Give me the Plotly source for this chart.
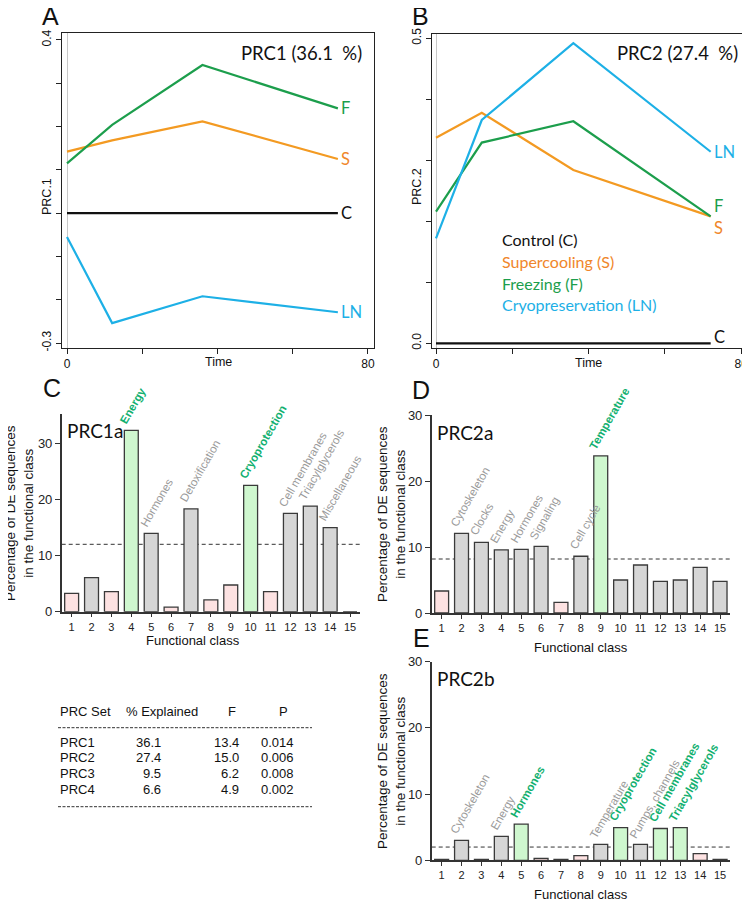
import plotly.graph_objects as go

# the page body keeps an 8px margin; the figure fills the rest of the 750x902 window
OFF = 8
W, H = 750 - OFF, 902 - OFF

# ---------------- Data ----------------
time_pts = [0, 12, 36, 72]
prc1_C = [0.0, 0.0, 0.0, 0.0]
prc1_S = [0.142, 0.168, 0.212, 0.125]
prc1_F = [0.115, 0.204, 0.342, 0.242]
prc1_LN = [-0.055, -0.254, -0.192, -0.229]

prc2_C = [0.0, 0.0, 0.0, 0.0]
prc2_S = [0.337, 0.378, 0.284, 0.208]
prc2_F = [0.216, 0.329, 0.364, 0.208]
prc2_LN = [0.172, 0.366, 0.492, 0.314]

prc1_pct = "PRC1 (36.1  %)"
prc2_pct = "PRC2 (27.4  %)"

classes = list(range(1, 16))

prc1a_vals = [3.26, 6.05, 3.56, 32.3, 13.95, 0.8, 18.3, 2.1, 4.75, 22.5, 3.56, 17.5, 18.8, 14.96, 0]
prc1a_kind = ['p', 'g', 'p', 's', 'g', 'p', 'g', 'p', 'p', 's', 'p', 'g', 'g', 'g', 'g']
prc1a_lab = ['', '', '', 'Energy', 'Hormones', '', 'Detoxification', '', '', 'Cryoprotection', '',
             'Cell membranes', 'Triacylglycerols', 'Miscellaneous', '']
prc1a_mean = 12.0

prc2a_vals = [3.33, 12.07, 10.7, 9.55, 9.65, 10.1, 1.6, 8.6, 23.8, 5.0, 7.27, 4.8, 5.0, 6.9, 4.8]
prc2a_kind = ['p', 'g', 'g', 'g', 'g', 'g', 'p', 'g', 's', 'g', 'g', 'g', 'g', 'g', 'g']
prc2a_lab = ['', 'Cytoskeleton', 'Clocks', 'Energy', 'Hormones', 'Signaling', '', 'Cell cycle', 'Temperature',
             '', '', '', '', '', '']
prc2a_mean = 8.18

prc2b_vals = [0.15, 3.0, 0.15, 3.6, 5.45, 0.3, 0.15, 0.7, 2.4, 4.95, 2.4, 4.8, 4.95, 1.0, 0.15]
prc2b_kind = ['g', 'g', 'g', 'g', 's', 'p', 'g', 'p', 'g', 's', 'g', 's', 's', 'p', 'g']
prc2b_lab = ['', 'Cytoskeleton', '', 'Energy', 'Hormones', '', '', '', 'Temperature', 'Cryoprotection',
             'Pumps, channels', 'Cell membranes', 'Triacylglycerols', '', '']
prc2b_mean = 2.0

table_head = ['PRC Set', '% Explained', 'F', 'P']
table_set = ['PRC1', 'PRC2', 'PRC3', 'PRC4']
table_expl = ['36.1', '27.4', '9.5', '6.6']
table_F = ['13.4', '15.0', '6.2', '4.9']
table_P = ['0.014', '0.006', '0.008', '0.002']

legend_names = ['Control (C)', 'Supercooling (S)', 'Freezing (F)', 'Cryopreservation (LN)']

# ---------------- Styles ----------------
COL = {'C': '#111111', 'S': '#f39a22', 'F': '#1c9e4c', 'LN': '#1db0e6'}
TXT_S = '#f0862a'
FILL = {'p': '#fde2e2', 'g': '#d6d6d6', 's': '#cff7cf'}
GREEN_TXT = '#12b070'
GRAY_TXT = '#9a9a9a'
ARIAL = 'Liberation Sans'
CAL = 'Lato'


def px(x):
    return (x - OFF) / W


def py(y):
    return 1 - (y - OFF) / H


def note(text, x, y, xa='center', ya='middle', **kw):
    d = dict(x=px(x), y=py(y), xref='paper', yref='paper', text=text, showarrow=False,
             xanchor=xa, yanchor=ya)
    d.update(kw)
    return d


fig = go.Figure()
ann = []
shapes = []

# ---------------- Panels A & B ----------------
line_sets = [
    ('x', 'y', [('C', prc1_C), ('S', prc1_S), ('F', prc1_F), ('LN', prc1_LN)],
     {'C': 0, 'S': 0, 'F': 0, 'LN': 0}),
    ('x2', 'y2', [('C', prc2_C), ('S', prc2_S), ('F', prc2_F), ('LN', prc2_LN)],
     {'C': 6, 'S': -12, 'F': 10, 'LN': 0}),
]
for xa, ya, series, yshifts in line_sets:
    for name, vals in series:
        fig.add_trace(go.Scatter(x=time_pts, y=vals, mode='lines', xaxis=xa, yaxis=ya,
                                 line=dict(color=COL[name], width=2.2), hoverinfo='skip',
                                 showlegend=False))
        ann.append(dict(x=time_pts[-1], y=vals[-1], xref=xa, yref=ya, text=name, showarrow=False,
                        xanchor='left', yanchor='middle', xshift=1, yshift=yshifts[name],
                        font=dict(family=CAL, size=16.5, color=TXT_S if name == 'S' else COL[name])))

lt_axis = dict(showline=True, mirror=True, linecolor='#222', linewidth=1, ticks='outside', automargin=False,
               ticklen=5, tickcolor='#222', showgrid=False, tickfont=dict(family=ARIAL, size=12, color='#111'))
xt = [0, 20, 40, 60, 80]
xt_txt = ['0', '', '', '', '80']
fig.update_layout(
    xaxis=dict(domain=[px(62), px(374)], range=[-1.33, 81.6], anchor='y', tickvals=xt, ticktext=xt_txt,
               zeroline=True, zerolinecolor='#c8c8c8', zerolinewidth=1, **lt_axis),
    yaxis=dict(domain=[py(348), py(33)], range=[-0.3115, 0.416], anchor='x',
               tickvals=[-0.3, -0.2, -0.1, 0, 0.1, 0.2, 0.3, 0.4],
               ticktext=['-0.3', '', '', '', '', '', '', '0.4'], tickangle=-90, zeroline=False, **lt_axis),
    xaxis2=dict(domain=[px(432), px(745)], range=[-1.05, 81.0], anchor='y2', tickvals=xt, ticktext=xt_txt,
                zeroline=True, zerolinecolor='#c8c8c8', zerolinewidth=1, **lt_axis),
    yaxis2=dict(domain=[py(348), py(34)], range=[-0.0077, 0.507], anchor='x2',
                tickvals=[0, 0.1, 0.2, 0.3, 0.4, 0.5],
                ticktext=['0.0', '', '', '', '', '0.5'], tickangle=-90, zeroline=False, **lt_axis),
)

ann += [
    note(prc1_pct, 364, 53, xa='right', font=dict(family=CAL, size=18.5, color='#111')),
    note(prc2_pct, 740, 53, xa='right', font=dict(family=CAL, size=18.5, color='#111')),
    note('PRC.1', 47, 197, textangle=-90, font=dict(family=ARIAL, size=12.5, color='#111')),
    note('PRC.2', 417, 187, textangle=-90, font=dict(family=ARIAL, size=12.5, color='#111')),
    note('Time', 218, 362, font=dict(family=ARIAL, size=12.5, color='#111')),
    note('Time', 588, 363, font=dict(family=ARIAL, size=12.5, color='#111')),
]
leg_cols = [COL['C'], TXT_S, COL['F'], COL['LN']]
for i, (nm, c) in enumerate(zip(legend_names, leg_cols)):
    ann.append(note(nm, 500, 240 + i * 21.6, xa='left', font=dict(family=CAL, size=16, color=c)))

# ---------------- Bar panels ----------------
bar_panels = [
    ('x3', 'y3', prc1a_vals, prc1a_kind, prc1a_lab, prc1a_mean, [px(61.7), px(360)], [py(611.7), py(414)], 35.2),
    ('x4', 'y4', prc2a_vals, prc2a_kind, prc2a_lab, prc2a_mean, [px(431.7), px(730)], [py(613), py(415)], 30),
    ('x5', 'y5', prc2b_vals, prc2b_kind, prc2b_lab, prc2b_mean, [px(431.7), px(730)], [py(860.3), py(661.7)], 30),
]
for xa, ya, vals, kinds, labs, mean, xd, yd, ymax in bar_panels:
    fig.add_trace(go.Bar(x=classes, y=vals, xaxis=xa, yaxis=ya, width=0.7,
                         marker=dict(color=[FILL[k] for k in kinds], line=dict(color='#3a3a3a', width=1.3)),
                         hoverinfo='skip', showlegend=False))
    shapes.append(dict(type='line', xref=xa + ' domain', yref=ya, x0=0, x1=1, y0=mean, y1=mean,
                       line=dict(color='#333', width=1, dash='4px,3px'), layer='below'))
    for c, v, lab, k in zip(classes, vals, labs, kinds):
        if not lab:
            continue
        sig = (k == 's')
        ann.append(dict(x=c, y=v, xref=xa, yref=ya, text=('<b>%s</b>' % lab) if sig else lab,
                        showarrow=False, textangle=-60, xanchor='left', yanchor='bottom',
                        xshift=-16, yshift=2,
                        font=dict(family=ARIAL, size=11.5, color=GREEN_TXT if sig else GRAY_TXT)))
    n = xa[1:]
    bar_axis_common = dict(showline=True, linecolor='#333', linewidth=1.5, ticks='outside', tickcolor='#333',
                           showgrid=False, zeroline=False, automargin=False)
    fig.update_layout(**{
        'xaxis' + n: dict(domain=xd, range=[0.5, 15.5], anchor=ya, tickvals=classes, ticklen=4,
                          tickfont=dict(family=ARIAL, size=11, color='#222'), **bar_axis_common),
        'yaxis' + n: dict(domain=yd, range=[0, ymax], anchor=xa, tickvals=[0, 10, 20, 30], ticklen=5,
                          tickfont=dict(family=ARIAL, size=13, color='#222'), **bar_axis_common),
    })

ytitle = 'Percentage of DE sequences<br>in the functional class'
for xc, yc in [(19, 513), (391, 514), (391, 761)]:
    ann.append(note(ytitle, xc, yc, textangle=-90, font=dict(family=ARIAL, size=13.5, color='#111')))
for xc, yc in [(193, 640), (581, 647), (581, 894)]:
    ann.append(note('Functional class', xc, yc, font=dict(family=ARIAL, size=13, color='#111')))
for txt, xc, yc in [('PRC1a', 65, 430), ('PRC2a', 435, 432), ('PRC2b', 435, 678)]:
    ann.append(note(txt, xc, yc, xa='left', font=dict(family=CAL, size=19, color='#111')))

# Panel letters
for txt, xc, yc in [('A', 50, 16), ('B', 420, 16), ('C', 52, 388), ('D', 421, 390), ('E', 421, 638)]:
    ann.append(note(txt, xc, yc, font=dict(family=ARIAL, size=25, color='#111')))

# ---------------- Table ----------------
tfont = dict(family=ARIAL, size=13, color='#111')
head_pos = [(58, 'left'), (124, 'left'), (232, 'center'), (283, 'center')]
for h, (xc, anc) in zip(table_head, head_pos):
    ann.append(note(h, xc, 711, xa=anc, font=tfont))
col_pos = [(58, 'left'), (163, 'right'), (241, 'right'), (296, 'right')]
for i in range(len(table_set)):
    row = [table_set[i], table_expl[i], table_F[i], table_P[i]]
    for val, (xc, anc) in zip(row, col_pos):
        ann.append(note(val, xc, 742 + i * 15.7, xa=anc, font=tfont))
for yl in [727.7, 806.7]:
    shapes.append(dict(type='line', xref='paper', yref='paper', x0=px(58), x1=px(312), y0=py(yl), y1=py(yl),
                       line=dict(color='#333', width=1, dash='3px,1.5px')))

fig.update_layout(width=W, height=H, margin=dict(l=0, r=0, t=0, b=0, autoexpand=False), paper_bgcolor='white',
                  plot_bgcolor='white', showlegend=False, annotations=ann, shapes=shapes, bargap=0.3)

fig.write_html('out.html')
